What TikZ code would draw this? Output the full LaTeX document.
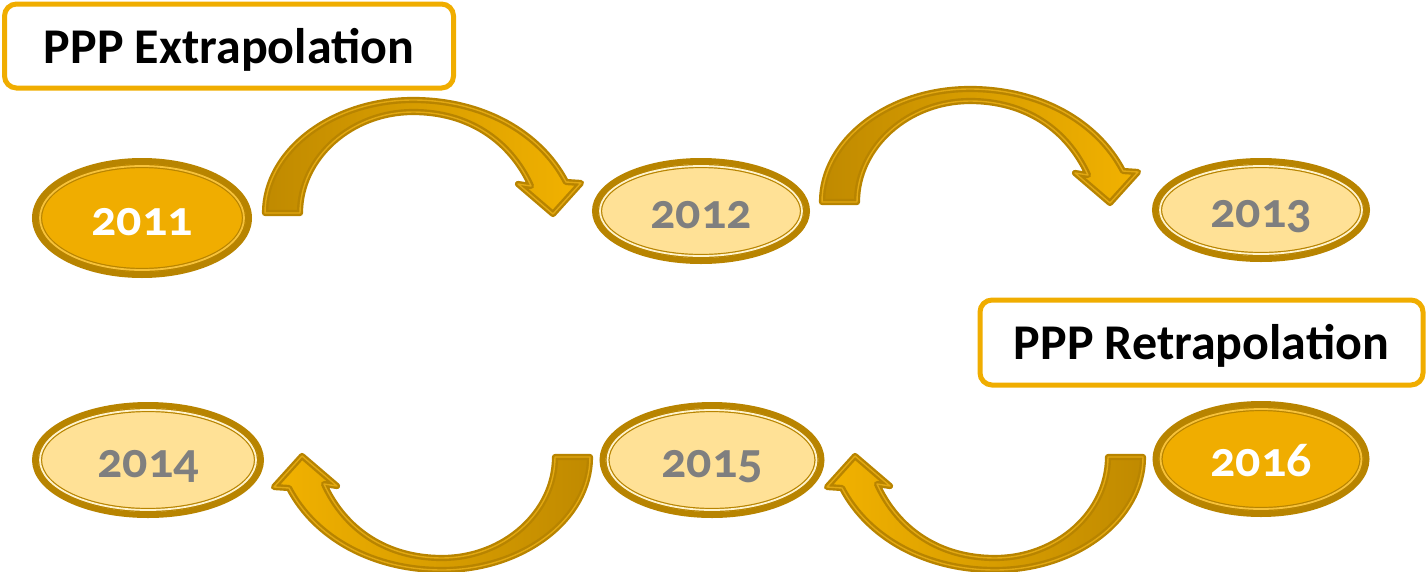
\documentclass[tikz,border=0pt]{standalone}
\usepackage{fontspec}
\setmainfont{Carlito}[Numbers=OldStyle]
\usetikzlibrary{shapes.geometric,calc}

\definecolor{goldline}{HTML}{B88400}
\definecolor{darkgold}{HTML}{F0AD00}
\definecolor{lightgold}{HTML}{FFE196}
\definecolor{ringpale}{HTML}{FFF3CC}
\definecolor{ringdeep}{HTML}{F7C23A}
\definecolor{greytext}{HTML}{7F7F7F}
\definecolor{shaftdark}{HTML}{C08A00}
\definecolor{shaftlight}{HTML}{F2B200}
\definecolor{arrowring}{HTML}{E2A812}

\tikzset{
  yearbase/.style={ellipse, draw=goldline, line width=6pt, inner sep=0pt,
    font=\bfseries\fontsize{50}{60}\selectfont, text height=44pt, text depth=10pt},
  ring/.style={path picture={\draw[goldline, line width=1.2pt, double=#1, double distance=1.8pt]
    let \p1=($(path picture bounding box.north east)-(path picture bounding box.center)$)
    in (path picture bounding box.center) ellipse [x radius=\x1-5pt, y radius=\y1-5pt];}},
  lightyear/.style={yearbase, fill=lightgold, text=greytext, ring=ringpale},
  darkyear/.style={yearbase, fill=darkgold, text=white, ring=ringdeep},
  labelbox/.style={draw=darkgold, line width=5pt, rounded corners=12pt, fill=white,
    inner sep=0pt, font=\bfseries\fontsize{50}{60}\selectfont, text height=40pt, text depth=6pt},
  bentarrow/.style={draw=goldline, line width=2.4pt, double=arrowring,
    double distance=1.4pt, line join=round}
}

% curved block arrow, drawn for 2011 -> 2012 and moved for the others
\newcommand{\bendarrow}[1]{%
  \draw[bentarrow,#1] (265,213) .. controls (265,151) and (332,100) .. (413,100)
    .. controls (482,100) and (540,132) .. (566,182)
    -- (581,183) -- (553,214) -- (518,184) -- (531,186)
    .. controls (510,140) and (468,112) .. (413,112)
    .. controls (351,112) and (300,158) .. (300,213) -- cycle;}

\begin{document}
\begin{tikzpicture}[x=1pt,y=-1pt]
  \useasboundingbox (0,0) rectangle (1427,571);
  % arrows
  \bendarrow{left color=shaftdark, right color=shaftlight}
  \bendarrow{shift={(557,-11)}, left color=shaftdark, right color=shaftlight}
  \bendarrow{rotate around={180:(427.5,335)}, left color=shaftlight, right color=shaftdark}
  \bendarrow{rotate around={180:(704,335)}, left color=shaftlight, right color=shaftdark}
  % years
  \node[darkyear, minimum width=214pt, minimum height=114pt] (y2011) at (142,218) {2011};
  \node[lightyear, minimum width=212pt, minimum height=100pt] (y2012) at (701,211) {2012};
  \node[lightyear, minimum width=212pt, minimum height=98pt] (y2013) at (1261,210) {2013};
  \node[lightyear, minimum width=226pt, minimum height=110pt] (y2014) at (148,460) {2014};
  \node[lightyear, minimum width=219pt, minimum height=110pt] (y2015) at (712,460) {2015};
  \node[darkyear, minimum width=211pt, minimum height=110pt] (y2016) at (1261,459) {2016};
  % labels
  \node[labelbox, minimum width=449pt, minimum height=84pt] (extra) at (229,46) {PPP Extrapolation};
  \node[labelbox, minimum width=443pt, minimum height=85pt] (retra) at (1201.5,342.5) {PPP Retrapolation};
\end{tikzpicture}
\end{document}
